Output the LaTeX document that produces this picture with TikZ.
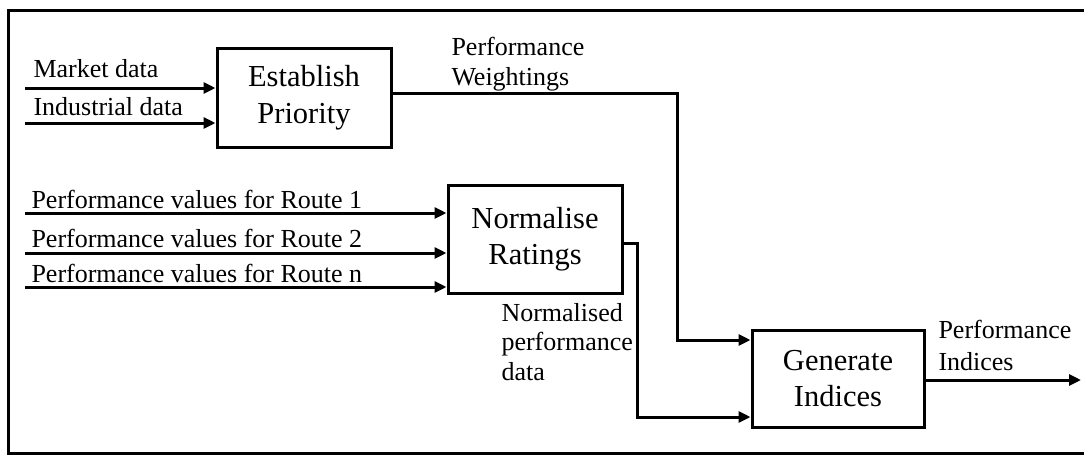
\documentclass[tikz,border=0pt]{standalone}
\usepackage{fontspec}
\setmainfont{Liberation Serif}
\usetikzlibrary{arrows.meta}
\begin{document}
\begin{tikzpicture}[x=1pt,y=-1pt,
  line width=3pt,
  procbox/.style={draw, rectangle, align=center, inner sep=0pt,
    font=\fontsize{30.5}{36.5}\selectfont},
  lbl/.style={anchor=base west, inner sep=0pt, font=\fontsize{26}{30}\selectfont},
  arr/.style={-{Triangle[length=12pt,width=11pt]}, line cap=butt}]
\useasboundingbox (0,0) rectangle (1084,456);
\clip (0,0) rectangle (1084,456);
% outer frame
\draw (8,10) rectangle (1100,453);

% process boxes
\node[procbox, minimum width=174, minimum height=99] (ep) at (304,97.5) {Establish\\Priority};
\node[procbox, minimum width=174, minimum height=108] (nr) at (535,239) {Normalise\\Ratings};
\node[procbox, minimum width=172, minimum height=97] (gi) at (838,378.5) {Generate\\Indices};

% input labels
\node[lbl] (lmd) at (32,77) {Market data};
\node[lbl] (lid) at (32,115) {Industrial data};
\node[lbl] (lr1) at (30,208) {Performance values for Route 1};
\node[lbl] (lr2) at (30,247) {Performance values for Route 2};
\node[lbl] (lrn) at (30,282) {Performance values for Route n};

% output labels
\node[lbl] (lpw1) at (450,55) {Performance};
\node[lbl] (lpw2) at (450,85) {Weightings};
\node[lbl] (lnp1) at (500,321) {Normalised};
\node[lbl] (lnp2) at (500,350) {performance};
\node[lbl] (lnp3) at (500,380) {data};
\node[lbl] (lpi1) at (937,338) {Performance};
\node[lbl] (lpi2) at (937,370) {Indices};

% free ends of the connectors
\coordinate (inmd) at (25,88);
\coordinate (inid) at (25,123);
\coordinate (inr1) at (25,213);
\coordinate (inr2) at (25,253);
\coordinate (inrn) at (25,287);
\coordinate (pwturn) at (677,93);
\coordinate (pwin) at (677,340);
\coordinate (npturn) at (637,243);
\coordinate (npin) at (637,417);
\coordinate (piout) at (1081,380);

% inputs
\draw[arr] (inmd) -- (inmd -| ep.west);
\draw[arr] (inid) -- (inid -| ep.west);
\draw[arr] (inr1) -- (inr1 -| nr.west);
\draw[arr] (inr2) -- (inr2 -| nr.west);
\draw[arr] (inrn) -- (inrn -| nr.west);

% weightings and normalised data into the index generator
\draw[arr] (pwturn -| ep.east) -- (pwturn) -- (pwin) -- (pwin -| gi.west);
\draw[arr] (npturn -| nr.east) -- (npturn) -- (npin) -- (npin -| gi.west);

% performance indices out
\draw[arr] (piout -| gi.east) -- (piout);
\end{tikzpicture}
\end{document}
